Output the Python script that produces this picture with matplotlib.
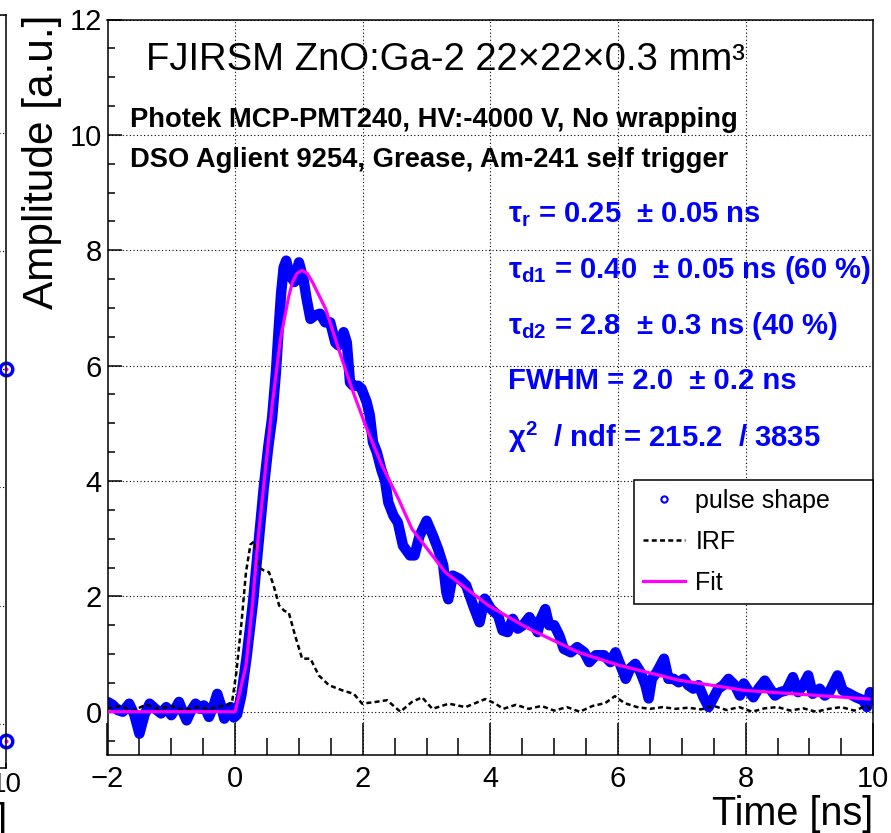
import matplotlib
matplotlib.use("Agg")
import matplotlib.pyplot as plt
from matplotlib.lines import Line2D
from matplotlib.ticker import MultipleLocator, NullFormatter

plt.rcParams['font.family'] = ['Liberation Sans', 'DejaVu Sans']
plt.rcParams['mathtext.fontset'] = 'custom'
plt.rcParams['mathtext.rm'] = 'Liberation Sans:bold'
plt.rcParams['mathtext.bf'] = 'Liberation Sans:bold'
plt.rcParams['mathtext.it'] = 'Liberation Sans:bold'
plt.rcParams['axes.unicode_minus'] = True

# ---------------- data ----------------
pulse_t = [-2.0, -1.92, -1.84, -1.76, -1.66, -1.58, -1.5, -1.42, -1.34, -1.25,
           -1.16, -1.08, -1.0, -0.94, -0.88, -0.82, -0.76, -0.69, -0.62, -0.55,
           -0.49, -0.41, -0.34, -0.28, -0.22, -0.17, -0.12, -0.07, -0.02, 0.03,
           0.10, 0.18, 0.28, 0.37, 0.45, 0.52, 0.58, 0.64, 0.68, 0.72,
           0.76, 0.80, 0.86, 0.93, 1.0, 1.07, 1.12, 1.18, 1.25, 1.33,
           1.41, 1.49, 1.57, 1.62, 1.70, 1.75, 1.80, 1.85, 1.93, 1.98,
           2.06, 2.11, 2.16, 2.22, 2.29, 2.35, 2.40, 2.48, 2.55, 2.63,
           2.74, 2.81, 2.89, 3.0, 3.1, 3.18, 3.26, 3.31, 3.34, 3.41,
           3.52, 3.62, 3.73, 3.83, 3.91, 4.01, 4.12, 4.19, 4.27, 4.35,
           4.43, 4.51, 4.61, 4.69, 4.74, 4.79, 4.86, 4.92, 5.0, 5.08,
           5.15, 5.26, 5.36, 5.47, 5.55, 5.65, 5.78, 5.88, 5.96, 6.04,
           6.12, 6.19, 6.27, 6.35, 6.43, 6.48, 6.53, 6.61, 6.72, 6.79,
           6.87, 6.95, 7.03, 7.1, 7.18, 7.26, 7.34, 7.42, 7.49, 7.57,
           7.65, 7.73, 7.83, 7.91, 7.97, 8.04, 8.12, 8.2, 8.3, 8.38,
           8.46, 8.54, 8.64, 8.74, 8.82, 8.9, 8.98, 9.05, 9.16, 9.24,
           9.31, 9.44, 9.52, 9.63, 9.73, 9.84, 9.9, 9.95]
pulse_y = [0.17, 0.12, 0.03, 0.0, 0.14, -0.05, -0.38, -0.05, 0.14, 0.05,
           -0.03, 0.08, -0.06, 0.05, 0.17, 0.0, -0.15, 0.02, 0.14, 0.05,
           0.11, -0.09, 0.1, 0.31, 0.1, -0.12, 0.0, 0.08, -0.1, -0.05,
           0.3, 0.95, 1.9, 2.95, 3.9, 4.6, 5.1, 5.9, 6.6, 7.25,
           7.7, 7.82, 7.56, 7.45, 7.79, 7.5, 7.16, 6.81, 6.87, 6.9,
           6.75, 6.75, 6.4, 6.35, 6.58, 6.4, 5.71, 5.65, 5.65, 5.6,
           5.37, 5.14, 4.67, 4.5, 4.2, 4.0, 3.63, 3.4, 3.28, 2.88,
           2.71, 2.71, 3.05, 3.31, 3.05, 2.82, 2.54, 2.07, 1.95, 2.36,
           2.3, 2.19, 1.84, 1.55, 1.96, 1.78, 1.67, 1.41, 1.38, 1.61,
           1.44, 1.5, 1.64, 1.5, 1.38, 1.61, 1.78, 1.5, 1.5, 1.32,
           1.09, 1.03, 1.12, 1.03, 0.86, 0.98, 0.98, 0.86, 1.03, 0.8,
           0.57, 0.75, 0.83, 0.69, 0.46, 0.23, 0.57, 0.69, 0.92, 0.57,
           0.57, 0.51, 0.57, 0.46, 0.4, 0.46, 0.25, 0.08, 0.23, 0.4,
           0.46, 0.57, 0.46, 0.28, 0.49, 0.37, 0.25, 0.4, 0.54, 0.4,
           0.28, 0.34, 0.37, 0.6, 0.34, 0.46, 0.63, 0.31, 0.4, 0.28,
           0.34, 0.63, 0.37, 0.31, 0.25, 0.2, 0.08, 0.34]

irf_t = [-2.0, -1.8, -1.6, -1.4, -1.2, -1.0, -0.8, -0.6, -0.4, -0.2,
         -0.05, 0.02, 0.1, 0.17, 0.24, 0.3, 0.37, 0.45, 0.53, 0.6,
         0.69, 0.77, 0.84, 0.94, 1.05, 1.18, 1.31, 1.47, 1.68, 1.86,
         1.99, 2.2, 2.38, 2.59, 2.77, 2.93, 3.09, 3.35, 3.61, 3.92,
         4.08, 4.2, 4.4, 4.6, 4.8, 5.0, 5.2, 5.4, 5.6, 5.8,
         5.95, 6.1, 6.3, 6.5, 6.7, 6.9, 7.1, 7.3, 7.5, 7.7,
         7.9, 8.1, 8.3, 8.5, 8.7, 8.9, 9.1, 9.3, 9.5, 9.7,
         9.9, 10.0]
irf_y = [0.05, 0.1, 0.02, 0.12, 0.05, 0.1, 0.03, 0.08, 0.05, 0.1,
         0.15, 0.69, 1.55, 2.42, 2.9, 2.95, 2.5, 2.45, 2.42, 2.2,
         1.84, 1.75, 1.72, 1.32, 0.92, 0.92, 0.63, 0.46, 0.37, 0.31,
         0.14, 0.17, 0.2, 0.0, 0.17, 0.25, 0.05, 0.14, 0.08, 0.22,
         0.14, 0.05, 0.12, 0.05, 0.1, 0.02, 0.08, 0.0, 0.1, 0.15,
         0.27, 0.15, 0.08, 0.05, 0.08, 0.05, 0.07, 0.04, 0.1, 0.03,
         0.08, 0.0, 0.06, 0.08, 0.02, 0.06, 0.0, 0.05, 0.08, 0.02,
         0.1, -0.02]

fit_t = [-2.0, 0.0, 0.17, 0.27, 0.36, 0.47, 0.58, 0.71, 0.84, 0.90,
         0.97, 1.05, 1.13, 1.21, 1.42, 1.62, 1.83, 2.04, 2.30, 2.56,
         2.77, 3.29, 3.97, 4.6, 5.38, 6.0, 6.94, 7.98, 9.02, 9.93]
fit_y = [0.0, 0.0, 0.8, 1.84, 3.0, 4.15, 5.31, 6.46, 7.2, 7.45,
         7.6, 7.65, 7.6, 7.45, 6.98, 6.29, 5.6, 4.97, 4.27, 3.69,
         3.17, 2.42, 1.84, 1.44, 1.03, 0.81, 0.55, 0.37, 0.29, 0.22]

# neighbouring panel (only its right edge is in frame)
side_t = [10.0, 10.0]
side_y = [6.0, -0.3]

x_limits = (-2, 10)
y_limits = (-0.75, 12)

title = "FJIRSM ZnO:Ga-2 22\u00d722\u00d70.3 mm\u00b3"
setup_lines = ["Photek MCP-PMT240, HV:-4000 V, No wrapping",
               "DSO Aglient 9254, Grease, Am-241 self trigger"]
fit_lines = [r"τ$_\mathrm{r}$ = 0.25  ± 0.05 ns",
             r"τ$_\mathrm{d1}$ = 0.40  ± 0.05 ns (60 %)",
             r"τ$_\mathrm{d2}$ = 2.8  ± 0.3 ns (40 %)",
             "FWHM = 2.0  ± 0.2 ns",
             r"χ$^\mathrm{2}$  / ndf = 215.2  / 3835"]
legend_labels = ["pulse shape", "IRF", "Fit"]

# ---------------- figure ----------------
W, H, DPI = 891, 833, 100
fig = plt.figure(figsize=(W / DPI, H / DPI), dpi=DPI)
fig.patch.set_facecolor('white')


def px_rect(x0, y0, x1, y1):
    """pixel box (origin top-left) -> figure fraction rect"""
    return [x0 / W, 1 - y1 / H, (x1 - x0) / W, (y1 - y0) / H]


def fx(x):
    return x / W


def fy(y):
    return 1 - y / H


BLUE = '#0000ff'
MAGENTA = '#ff00ff'
grid_style = dict(color='black', linestyle=(0, (1, 2.2)), linewidth=0.8)


def root_frame(a):
    for s in a.spines.values():
        s.set_linewidth(1.1)
        s.set_color('black')


# ---- neighbouring panel remnant ----
axl = fig.add_axes(px_rect(-420, 15, 6, 768))
axl.set_xlim(*x_limits)
axl.set_ylim(*y_limits)
axl.set_xticks([10])
axl.set_xticklabels(['10'])
axl.xaxis.set_minor_locator(MultipleLocator(0.5))
axl.yaxis.set_major_locator(MultipleLocator(2))
axl.yaxis.set_minor_locator(MultipleLocator(0.5))
axl.yaxis.set_major_formatter(NullFormatter())
axl.tick_params(axis='both', which='both', direction='in', width=1.1)
axl.tick_params(axis='x', labelsize=20, pad=3)
axl.grid(True, which='major', **grid_style)
axl.plot(side_t, side_y, 'o', ms=9, mfc='none', mec=BLUE, mew=2.5, clip_on=False)
axl.plot(side_t, side_y, '.', ms=4, color=MAGENTA, clip_on=False)
axl.set_xlabel("Time [ns]", fontsize=28.5, loc='right')
axl.xaxis.set_label_coords(1.004, -0.045)
root_frame(axl)

# ---- main panel ----
ax = fig.add_axes(px_rect(107.5, 19.5, 873.3, 755))
ax.set_xlim(*x_limits)
ax.set_ylim(*y_limits)
ax.xaxis.set_major_locator(MultipleLocator(2))
ax.xaxis.set_minor_locator(MultipleLocator(0.5))
ax.yaxis.set_major_locator(MultipleLocator(2))
ax.yaxis.set_minor_locator(MultipleLocator(0.5))
ax.tick_params(axis='x', which='major', direction='in', length=23, width=1.1,
               top=False, labelsize=21, pad=7)
ax.tick_params(axis='x', which='minor', direction='in', length=12.5, width=1.1,
               top=False)
ax.tick_params(axis='y', which='major', direction='in', length=10, width=1.1,
               right=False, labelsize=21, pad=4)
ax.tick_params(axis='y', which='minor', direction='in', length=5, width=1.1,
               right=False)
ax.grid(True, which='major', **grid_style)
ax.set_axisbelow(True)
root_frame(ax)

ax.plot(pulse_t, pulse_y, color=BLUE, lw=7.5, solid_capstyle='round',
        solid_joinstyle='round', zorder=2)
ax.plot(irf_t, irf_y, color='black', lw=1.8, linestyle=(0, (2.0, 1.3)), zorder=3)
ax.plot(fit_t, fit_y, color=MAGENTA, lw=2.3, zorder=4)

ax.set_xlabel("Time [ns]", fontsize=28.5, loc='right')
ax.xaxis.set_label_coords(1.0, -0.054)
ax.set_ylabel("Amplitude [a.u.]", fontsize=30.5, loc='top')
ax.yaxis.set_label_coords(-0.060, 1.006)

# legend
handles = [Line2D([], [], marker='o', ls='none', ms=4.5, mfc='none', mec=BLUE, mew=1.5),
           Line2D([], [], color='black', lw=1.8, linestyle=(0, (2.0, 1.3))),
           Line2D([], [], color=MAGENTA, lw=2.3)]
lx0, lx1, ly0, ly1 = 634, 873.3, 480, 618
ax_w, ax_h = 873.3 - 107.5, 755 - 19.5
leg = ax.legend(handles, legend_labels, loc='upper left',
                bbox_to_anchor=((lx0 - 107.5) / ax_w, (755 - ly1) / ax_h,
                                (lx1 - lx0) / ax_w, (ly1 - ly0) / ax_h),
                mode='expand', borderaxespad=0, fontsize=18, borderpad=0.35,
                labelspacing=0.68, handlelength=1.7, handletextpad=0.4,
                fancybox=False, framealpha=1, edgecolor='black')
leg.get_frame().set_linewidth(1.1)

# annotations
fig.text(fx(146), fy(60), title, fontsize=27.5, ha='left', va='center')
for text, yc in zip(setup_lines, [120, 160]):
    fig.text(fx(130), fy(yc), text, fontsize=19.7, fontweight='bold',
             ha='left', va='center')
for text, yc in zip(fit_lines, [215, 270, 326, 381, 437]):
    fig.text(fx(508), fy(yc), text, fontsize=21.1, fontweight='bold',
             color=BLUE, ha='left', va='center')

fig.savefig("out.png", dpi=DPI)
